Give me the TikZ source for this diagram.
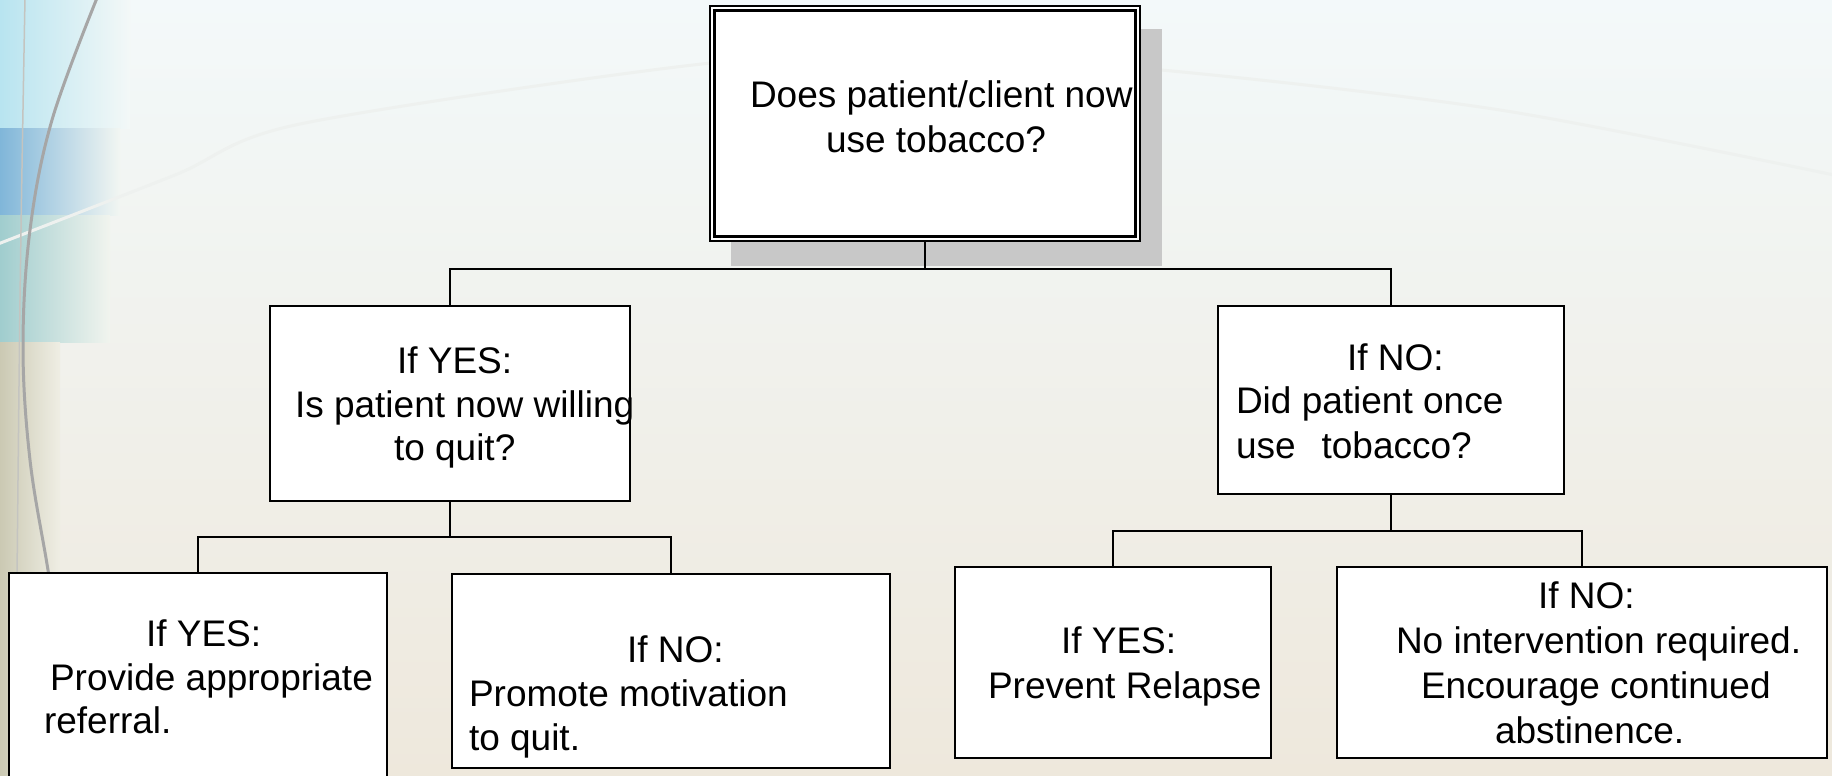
\documentclass[tikz,border=0pt]{standalone}
\usepackage{fontspec}
\setmainfont{Liberation Sans}
\definecolor{bgtop}{HTML}{F3F9FA}
\definecolor{bgmid}{HTML}{F0F3EA}
\definecolor{bgbot}{HTML}{EEE8DC}
\definecolor{bgA}{HTML}{F3F8F7}
\definecolor{bgB}{HTML}{F2F6F2}
\definecolor{bgC}{HTML}{F1F4EE}
\definecolor{bgD}{HTML}{EFEEE4}
\definecolor{bandcyan}{HTML}{B8E4F0}
\definecolor{bandblue}{HTML}{80B6D9}
\definecolor{bandteal}{HTML}{A0CDCE}
\definecolor{bandolive}{HTML}{CBC9B3}
\definecolor{arcgray}{HTML}{A6A6A6}
\definecolor{arclight}{HTML}{C4C4C0}
\definecolor{arcfaint}{HTML}{EEF1EF}
\definecolor{shadowgray}{HTML}{C8C8C8}
\begin{document}
\begin{tikzpicture}[x=1pt,y=-1pt,
  box/.style={draw=black, fill=white, line width=1.4pt, rectangle, inner sep=0pt, outer sep=0pt},
  txt/.style={anchor=base west, inner sep=0pt, outer sep=0pt, font=\fontsize{37}{44}\selectfont},
  link/.style={draw=black, line width=1.3pt}]
\useasboundingbox (0,0) rectangle (1832,776);
\clip (0,0) rectangle (1832,776);
% background
\shade[top color=bgtop, middle color=bgmid, bottom color=bgbot] (0,0) rectangle (1832,776);
\shade[left color=bandcyan, right color=bgA] (0,0) rectangle (130,128);
\shade[left color=bandblue, right color=bgB] (0,128) rectangle (120,215);
\shade[left color=bandteal, right color=bgC] (0,215) rectangle (110,342);
\shade[left color=bandolive, right color=bgD] (0,342) rectangle (60,776);
\draw[arcfaint, line width=3pt] plot[smooth] coordinates {(-2,244) (175,175) (300,124) (711,63) (930,58) (1161,70) (1500,110) (1834,175)};
\draw[arclight, line width=1.5pt] plot[smooth] coordinates {(25,-2) (20,300) (15,778)};
\draw[arcgray, line width=3pt] plot[smooth, tension=0.6] coordinates {(97,-2) (52,120) (30,230) (23,347) (30,460) (48,570) (62,660)};
% top box with shadow and double border
\node[rectangle, inner sep=0pt, outer sep=0pt, minimum width=430pt, minimum height=235pt] (q0) at (925,123.5) {};
\fill[shadowgray] ([shift={(21,23)}]q0.north west) rectangle ([shift={(22,25)}]q0.south east);
\draw[box, line width=1.2pt] (q0.north west) rectangle (q0.south east);
\draw[line width=2.2pt] ([shift={(4.5,4.5)}]q0.north west) rectangle ([shift={(-4.5,-4.5)}]q0.south east);
% other boxes
\node[box, minimum width=360pt, minimum height=195pt] (yes) at (450,403.5) {};
\node[box, minimum width=346pt, minimum height=188pt] (no) at (1391,400) {};
\node[box, minimum width=378pt, minimum height=217pt] (yy) at (198,681.5) {};
\node[box, minimum width=438pt, minimum height=194pt] (yn) at (671,671) {};
\node[box, minimum width=316pt, minimum height=191pt] (ny) at (1113,662.5) {};
\node[box, minimum width=490pt, minimum height=191pt] (nn) at (1582,662.5) {};
% connectors
\draw[link] (q0.south) -- ++(0,28) -| (yes.north);
\draw[link] (q0.south) -- ++(0,28) -| (no.north);
\draw[link] (yes.south) -- ++(0,36) -| (yy.north);
\draw[link] (yes.south) -- ++(0,36) -| (yn.north);
\draw[link] (no.south) -- ++(0,37) -| (ny.north);
\draw[link] (no.south) -- ++(0,37) -| (nn.north);
% texts
\node[txt] (t01) at (750,107) {Does patient/client now};
\node[txt] (t02) at (826,152) {use tobacco?};
\node[txt] (t03) at (397,373) {If YES:};
\node[txt] (t04) at (295,417) {Is patient now willing};
\node[txt] (t05) at (394,460) {to quit?};
\node[txt] (t06) at (1347,370) {If NO:};
\node[txt] (t07) at (1236,413) {Did patient once};
\node[txt] (t08) at (1236,458) {use\hspace{26pt}tobacco?};
\node[txt] (t09) at (146,646) {If YES:};
\node[txt] (t10) at (50,690) {Provide appropriate};
\node[txt] (t11) at (44,733) {referral.};
\node[txt] (t12) at (627,662) {If NO:};
\node[txt] (t13) at (469,706) {Promote motivation};
\node[txt] (t14) at (469,750) {to quit.};
\node[txt] (t15) at (1061,653) {If YES:};
\node[txt] (t16) at (988,698) {Prevent Relapse};
\node[txt] (t17) at (1538,608) {If NO:};
\node[txt] (t18) at (1396,653) {No intervention required.};
\node[txt] (t19) at (1421,698) {Encourage continued};
\node[txt] (t20) at (1495,743) {abstinence.};
\end{tikzpicture}
\end{document}
